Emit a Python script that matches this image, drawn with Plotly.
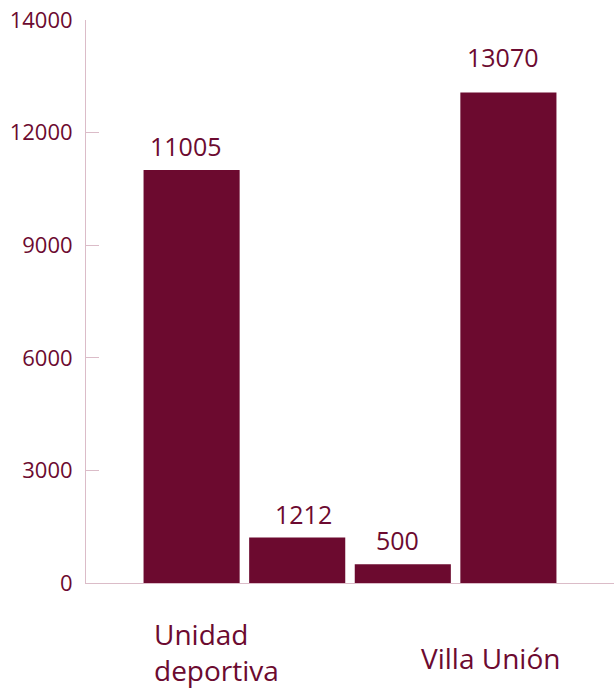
import plotly.graph_objects as go

# Data
bar_positions = [0, 1, 2, 3]
values = [11005, 1212, 500, 13070]
value_labels = ["11005", "1212", "500", "13070"]
group_labels = ["Unidad<br>deportiva", "Villa Unión"]
y_tickvals = [0, 3000, 6000, 9000, 12000, 14999]
y_ticktext = ["0", "3000", "6000", "9000", "12000", "14000"]

BAR = "#6c0a2f"
TXT = "#6c0a30"
AXIS = "#dbbcc8"
FONT = "Open Sans"

# label fine offsets (pixels) to mimic reference placement
label_dx = [-6, 6, -5, -6]
label_dy = [5, 5, 5, 16]

fig = go.Figure()
fig.add_trace(go.Bar(
    x=bar_positions, y=values, width=0.91,
    marker=dict(color=BAR, line=dict(width=0)),
    hoverinfo="skip",
))

annotations = []
for xv, yv, t, dx, dy in zip(bar_positions, values, value_labels, label_dx, label_dy):
    annotations.append(dict(
        x=xv, y=yv, text=t, showarrow=False, xref="x", yref="y",
        xanchor="center", yanchor="bottom", yshift=dy, xshift=dx,
        font=dict(family=FONT, size=25, color=TXT),
    ))

cat_font = dict(family=FONT, size=28, color=TXT)
annotations.append(dict(
    x=-0.375, y=0, text=group_labels[0], showarrow=False,
    xref="x", yref="y", xanchor="left", yanchor="top", align="left",
    yshift=-30, font=cat_font,
))
annotations.append(dict(
    x=2.826, y=0, text=group_labels[1], showarrow=False,
    xref="x", yref="y", xanchor="center", yanchor="top",
    yshift=-54, font=cat_font,
))

fig.update_layout(
    width=615, height=688,
    margin=dict(l=86, r=1, t=20, b=105),
    paper_bgcolor="white", plot_bgcolor="white",
    showlegend=False,
    annotations=annotations,
    font=dict(family=FONT, color=TXT),
    xaxis=dict(
        range=[-1, 4], showgrid=False, zeroline=False,
        showline=True, linecolor=AXIS, linewidth=1,
        tickvals=[-0.998, 3.998], ticktext=["", ""], ticks="inside",
        ticklen=13, tickcolor=AXIS, tickwidth=1,
    ),
    yaxis=dict(
        range=[0, 15000], showgrid=False, zeroline=False,
        showline=True, linecolor=AXIS, linewidth=1,
        tickvals=y_tickvals, ticktext=y_ticktext,
        ticks="inside", ticklen=13, tickcolor=AXIS, tickwidth=1,
        ticklabelstandoff=8, ticklabeloverflow="allow",
        tickfont=dict(family=FONT, size=22, color=TXT),
    ),
)

fig.write_html(
    "out.html",
    config={"displayModeBar": False},
    post_script="document.body.style.margin='0';",
)
